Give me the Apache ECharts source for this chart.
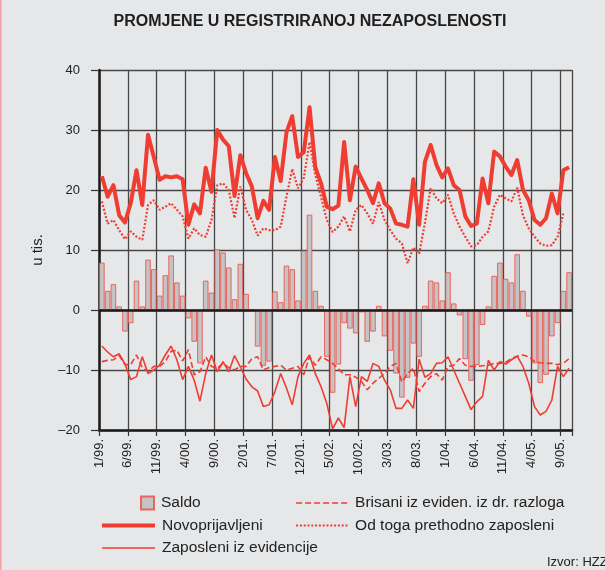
<!DOCTYPE html>
<html>
<head>
<meta charset="utf-8">
<script src="https://cdn.jsdelivr.net/npm/echarts@6/dist/echarts.min.js"></script>
<style>
html, body { margin: 0; padding: 0; background: #e6e7e9; }
#main { width: 605px; height: 570px; }
</style>
</head>
<body>
<div id="main"></div>
<script>
// mjesecni podaci 1/99. - 10/05., u tisucama
var tickLabels = ['1/99.', '6/99.', '11/99.', '4/00.', '9/00.', '2/01.', '7/01.', '12/01.', '5/02.',
    '10/02.', '3/03.', '8/03.', '1/04.', '6/04.', '11/04.', '4/05.', '9/05.'];

var saldo = [7.9, 3.2, 4.3, 0.6, -3.6, -2.2, 4.9, 0.6, 8.4, 6.8,
    2.4, 5.8, 9.1, 4.6, 2.4, -1.4, -5.3, -8.9, 4.9, 2.9,
    10.1, 9.6, 7.1, 1.8, 7.7, 2.7, 0, -6.1, -9.3, -8.6,
    3.1, 1.3, 7.4, 6.8, 1.6, 9.9, 15.9, 3.2, 0.7, -7.8,
    -13.8, -9.1, -2.2, -3.1, -3.9, -0.4, -5.3, -3.6, 0.7, -4.4,
    -6.8, -10.6, -14.6, -11.3, -5.6, -7.8, 0.7, 4.9, 4.6, 1.6,
    6.3, 1.1, -0.9, -8.2, -11.8, -9.2, -2.5, 0.6, 5.7, 7.9,
    5.2, 4.6, 9.3, 3.2, -1.1, -8.9, -12.2, -10.8, -4.4, -2.2,
    3.2, 6.3];

var novoprijavljeni = [22.3, 18.9, 20.8, 15.8, 14.6, 17.8, 23.3, 17.5, 29.2, 25.5,
    21.7, 22.3, 22.1, 22.3, 21.8, 14.2, 17.6, 16.1, 23.7, 19.7,
    30.0, 28.4, 27.3, 19.0, 25.8, 22.8, 20.6, 15.3, 18.2, 16.7,
    25.5, 21.5, 29.6, 32.3, 25.5, 26.3, 33.8, 23.8, 21.1, 17.2,
    16.8, 17.4, 28.0, 18.3, 23.9, 21.9, 20.0, 17.8, 21.1, 17.8,
    16.9, 14.4, 14.2, 13.9, 21.8, 14.2, 24.7, 27.5, 24.2, 22.1,
    23.6, 20.8, 20.0, 15.6, 14.0, 14.4, 21.9, 17.8, 26.4, 25.6,
    23.9, 22.5, 25.0, 20.0, 18.3, 15.0, 14.2, 15.3, 19.4, 16.1,
    23.3, 23.8];

var zaposleni = [-6.0, -7.0, -7.8, -7.3, -9.0, -11.6, -11.1, -7.8, -10.6, -10.0,
    -9.2, -7.5, -6.0, -8.3, -11.6, -9.4, -11.7, -15.2, -10.6, -7.5,
    -10.3, -8.6, -10.3, -7.6, -9.5, -11.5, -12.8, -13.5, -16.1, -15.8,
    -13.6, -10.6, -13.0, -15.8, -11.1, -8.9, -7.5, -10.6, -12.8, -15.6,
    -19.8, -18.0, -19.6, -11.1, -16.1, -11.1, -11.9, -8.9, -9.4, -11.7,
    -13.3, -16.4, -16.4, -15.0, -16.4, -8.2, -11.2, -10.6, -8.9, -8.8,
    -7.8, -10.0, -12.2, -14.4, -16.6, -15.3, -14.4, -8.4, -10.0, -8.6,
    -9.0, -8.3, -7.7, -9.4, -12.2, -16.1, -17.5, -16.9, -15.0, -9.4,
    -11.1, -9.7];

var brisani = [-8.6, -8.4, -8.3, -7.6, -9.1, -9.1, -7.5, -9.6, -10.3, -9.4,
    -9.4, -8.6, -6.9, -6.7, -8.5, -6.6, -10.8, -10.3, -7.8, -9.4,
    -9.7, -8.9, -9.6, -10.0, -9.4, -9.4, -8.1, -7.8, -10.0, -9.6,
    -9.4, -9.2, -10.0, -9.7, -9.4, -10.8, -7.8, -9.2, -7.8, -8.3,
    -8.9, -9.8, -10.8, -10.8, -11.2, -11.9, -13.3, -12.2, -11.4, -10.6,
    -9.4, -8.9, -12.0, -10.6, -9.7, -13.6, -12.2, -11.1, -10.6, -11.7,
    -9.4, -9.2, -8.1, -9.2, -9.4, -9.4, -9.3, -9.2, -8.9, -8.9,
    -8.7, -8.1, -7.7, -7.5, -7.8, -8.6, -8.8, -8.9, -8.9, -9.1,
    -8.9, -8.1];

var prethodnoZaposleni = [18.1, 14.4, 15.0, 13.3, 11.8, 13.1, 12.2, 11.7, 17.5, 18.3,
    16.7, 17.2, 17.8, 16.7, 15.6, 11.9, 13.6, 12.5, 12.2, 15.0,
    20.8, 21.1, 20.0, 15.3, 20.6, 16.7, 15.0, 12.4, 13.6, 13.3,
    13.3, 13.9, 18.9, 23.5, 20.3, 22.0, 28.0, 22.5, 18.8, 15.0,
    13.0, 13.9, 15.6, 13.1, 16.7, 17.5, 16.1, 14.4, 18.0, 15.0,
    13.3, 11.9, 11.1, 7.8, 10.4, 9.4, 14.5, 20.3, 18.6, 17.8,
    19.2, 16.1, 13.9, 12.2, 10.6, 10.8, 12.2, 13.1, 17.2, 19.2,
    18.6, 18.1, 20.4, 15.8, 13.6, 12.2, 11.1, 10.7, 10.8, 12.2,
    16.1, null];

var font = "'Liberation Sans', Arial, sans-serif";
var red = '#ef3d32';

// tocka svakog mjeseca u sredini njegovog razmaka
function pairs(values) {
    var out = [];
    for (var i = 0; i < values.length; i++) {
        if (values[i] !== null) out.push([i + 0.5, values[i]]);
    }
    return out;
}

var chart = echarts.init(document.getElementById('main'));

var legendText = { fontSize: 15.5, color: '#222', lineHeight: 16, padding: [0, 0, 0, 2] };

var option = {
    backgroundColor: '#e6e7e9',
    animation: false,
    textStyle: { fontFamily: font },
    grid: { left: 99, right: 33, top: 70, bottom: 140 },
    graphic: [
        {
            type: 'text', x: 310, y: 22,
            style: {
                text: 'PROMJENE U REGISTRIRANOJ NEZAPOSLENOSTI', textAlign: 'center', textVerticalAlign: 'middle',
                font: 'bold 16px ' + font, fill: '#1e1e1e'
            }
        },
        {
            type: 'text', x: 547, y: 562,
            style: { text: 'Izvor: HZZ', textVerticalAlign: 'middle', font: '13px ' + font, fill: '#222' }
        },
        { type: 'rect', shape: { x: 0, y: 0, width: 1.5, height: 570 }, style: { fill: '#f0a0a0' } }
    ],
    xAxis: {
        type: 'value',
        min: 0,
        max: saldo.length,
        interval: 5,
        axisLine: { onZero: false, lineStyle: { color: '#1a1a1a', width: 2.5 } },
        axisTick: { show: true, length: 6, lineStyle: { color: '#333', width: 1.2 } },
        splitLine: { show: true, lineStyle: { color: '#474747', width: 1.3 } },
        axisLabel: {
            rotate: 90, margin: 9, fontSize: 13, color: '#222',
            showMinLabel: true, showMaxLabel: true,
            formatter: function (v) {
                var k = Math.round(v);
                return (k % 5 === 0 && tickLabels[k / 5]) ? tickLabels[k / 5] : '';
            }
        }
    },
    yAxis: {
        type: 'value',
        min: -20,
        max: 40,
        interval: 10,
        name: 'u tis.',
        nameLocation: 'middle',
        nameGap: 54,
        nameTextStyle: { fontSize: 15, color: '#222' },
        axisLine: { show: true, lineStyle: { color: '#1a1a1a', width: 2.5 } },
        axisTick: { show: true, length: 8, lineStyle: { color: '#333', width: 1.2 } },
        splitLine: { lineStyle: { color: '#474747', width: 1.3 } },
        axisLabel: {
            margin: 19, fontSize: 13, color: '#222',
            formatter: function (v) { return String(v).replace('-', '–'); }
        }
    },
    legend: [
        {
            data: [{ name: 'Saldo', icon: 'rect' }],
            left: 140, top: 495, padding: 0, itemWidth: 13, itemHeight: 13,
            selectedMode: false, textStyle: legendText
        },
        {
            orient: 'vertical',
            data: [
                { name: 'Novoprijavljeni', lineStyle: { width: 4 } },
                { name: 'Zaposleni iz evidencije', lineStyle: { width: 1.6 } }
            ],
            left: 100, top: 517.5, padding: 0, itemWidth: 53, itemHeight: 14, itemGap: 6.5,
            itemStyle: { opacity: 0 },
            selectedMode: false, textStyle: legendText
        },
        {
            orient: 'vertical',
            data: [
                { name: 'Brisani iz eviden. iz dr. razloga', lineStyle: { width: 1.6 } },
                { name: 'Od toga prethodno zaposleni', lineStyle: { width: 2.2 } }
            ],
            left: 295, top: 495, padding: 0, itemWidth: 52, itemHeight: 14, itemGap: 6.5,
            itemStyle: { opacity: 0 },
            selectedMode: false, textStyle: legendText
        }
    ],
    series: [
        {
            name: 'Saldo',
            type: 'bar',
            data: pairs(saldo),
            barWidth: 5.6,
            itemStyle: { color: '#c4c4c6', borderColor: 'rgba(240,80,70,0.85)', borderWidth: 1 },
            markLine: {
                silent: true,
                symbol: 'none',
                label: { show: false },
                lineStyle: { color: '#1a1a1a', width: 2.5, type: 'solid' },
                data: [{ yAxis: 0 }]
            }
        },
        {
            name: 'Zaposleni iz evidencije',
            type: 'line',
            data: pairs(zaposleni),
            symbol: 'none',
            lineStyle: { color: red, width: 1.6 },
            itemStyle: { color: red }
        },
        {
            name: 'Brisani iz eviden. iz dr. razloga',
            type: 'line',
            data: pairs(brisani),
            symbol: 'none',
            lineStyle: { color: red, width: 1.6, type: [6, 3] },
            itemStyle: { color: red }
        },
        {
            name: 'Od toga prethodno zaposleni',
            type: 'line',
            data: pairs(prethodnoZaposleni),
            symbol: 'none',
            lineStyle: { color: red, width: 2.2, type: [2, 1.8] },
            itemStyle: { color: red }
        },
        {
            name: 'Novoprijavljeni',
            type: 'line',
            data: pairs(novoprijavljeni),
            symbol: 'none',
            lineStyle: { color: red, width: 4, join: 'round' },
            itemStyle: { color: red }
        }
    ]
};

chart.setOption(option);
</script>
</body>
</html>
